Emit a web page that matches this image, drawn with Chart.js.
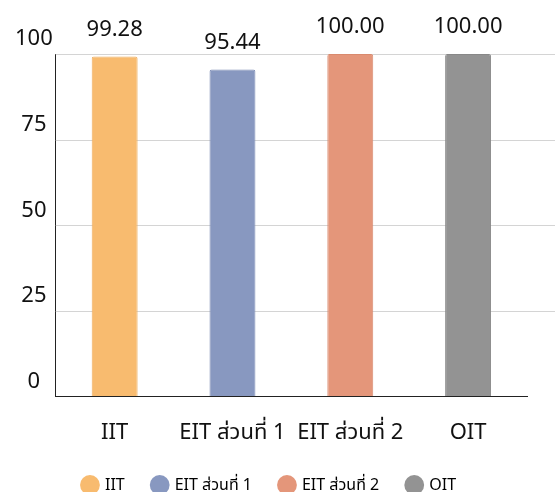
<!DOCTYPE html>
<html>
<head>
<meta charset="utf-8">
<script src="https://cdn.jsdelivr.net/npm/chart.js@4"></script>
<style>
  html, body { margin: 0; padding: 0; background: #fff; }
  #wrap { width: 555px; height: 492px; }
</style>
</head>
<body>
<div id="wrap"><canvas id="scoreChart"></canvas></div>
<script>
let labels = ["IIT", "EIT ส่วนที่ 1", "EIT ส่วนที่ 2", "OIT"];
let scores = [99.28, 95.44, 100.00, 100.00];
let yTicks = [0, 25, 50, 75, 100];
let barColors = ['#F8BB6F', '#8898C0', '#E4967A', '#939393'];
let barBorders = ['#EDAE60', '#7D8DB5', '#D98A6E', '#888888'];

const fontFamily = "'Noto Sans', 'Noto Sans Thai', 'DejaVu Sans', sans-serif";

// value labels on top of each bar
const valueLabels = {
    id: 'valueLabels',
    afterDatasetsDraw(chart) {
        let ctx = chart.ctx;
        let meta = chart.getDatasetMeta(0);
        ctx.save();
        ctx.font = '22px ' + fontFamily;
        ctx.fillStyle = '#111';
        ctx.textAlign = 'center';
        ctx.textBaseline = 'bottom';
        meta.data.forEach((bar, i) => {
            ctx.fillText(scores[i].toFixed(2), bar.x, bar.y - 16);
        });
        ctx.restore();
    }
};

// horizontal grid lines, running past the plot to the canvas edge
const gridLines = {
    id: 'gridLines',
    beforeDatasetsDraw(chart) {
        let ctx = chart.ctx;
        let y = chart.scales.y;
        let area = chart.chartArea;
        ctx.save();
        ctx.strokeStyle = '#d4d4d4';
        ctx.lineWidth = 1;
        yTicks.forEach((v) => {
            if (v === 0) return;
            let py = Math.round(y.getPixelForValue(v)) + 0.5;
            ctx.beginPath();
            ctx.moveTo(area.left, py);
            ctx.lineTo(chart.width, py);
            ctx.stroke();
        });
        ctx.restore();
    }
};

let ctx = document.getElementById('scoreChart').getContext('2d');

let myChart = new Chart(ctx, {
    type: 'bar',
    data: {
        labels: labels,
        datasets: [{
            label: 'คะแนน',
            data: scores,
            backgroundColor: barColors,
            borderColor: barBorders,
            borderWidth: 1,
            borderRadius: 2,
            borderSkipped: 'bottom',
            barPercentage: 0.5,
            categoryPercentage: 0.78,
        }]
    },
    options: {
        responsive: true,
        maintainAspectRatio: false,
        animation: false,
        layout: {
            padding: { top: 54, left: 12, right: 28, bottom: -11 }
        },
        scales: {
            x: {
                grid: { display: false, drawTicks: false },
                border: { display: true, color: '#222', width: 1 },
                ticks: {
                    color: '#111',
                    font: { size: 22, family: fontFamily },
                    padding: 23,
                },
                afterFit: (axis) => { axis.height -= 20; }
            },
            y: {
                min: 0,
                max: 100,
                afterBuildTicks: (axis) => {
                    axis.ticks = yTicks.map((v) => ({ value: v }));
                },
                grid: { color: 'rgba(0,0,0,0)', drawTicks: false },
                border: { display: true, color: '#222', width: 1 },
                ticks: {
                    color: '#111',
                    font: { size: 22, family: fontFamily },
                    padding: 3,
                    crossAlign: 'center',
                    labelOffset: -15,
                }
            }
        },
        plugins: {
            legend: {
                position: 'bottom',
                onClick: (e) => e.stopPropagation(),
                labels: {
                    color: '#222',
                    font: { size: 16, family: fontFamily },
                    usePointStyle: true,
                    pointStyle: 'circle',
                    boxWidth: 14,
                    boxHeight: 14,
                    padding: 28,
                    generateLabels: (chart) => labels.map((l, i) => ({
                        text: l,
                        fillStyle: barColors[i],
                        strokeStyle: barColors[i],
                        lineWidth: 0,
                        pointStyle: 'circle',
                        hidden: false,
                        index: i,
                    }))
                }
            },
            tooltip: { enabled: false }
        }
    },
    plugins: [valueLabels, gridLines]
});
</script>
</body>
</html>
